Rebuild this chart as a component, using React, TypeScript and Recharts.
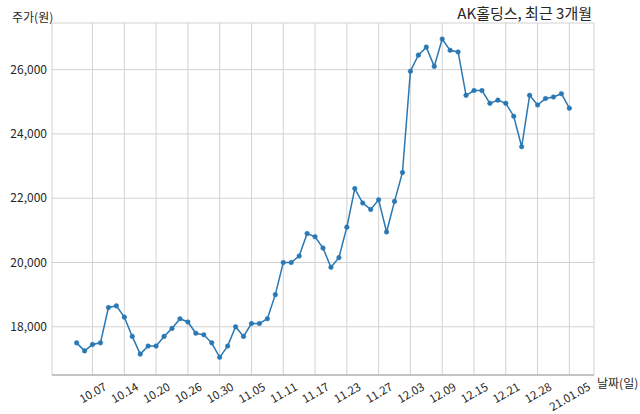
import React from 'react'
import { LineChart, Line, XAxis, YAxis, CartesianGrid } from 'recharts'

// 거래일 (2020.10.05 ~ 2021.01.05)
const dates = [
    '10.05', '10.06', '10.07', '10.08', '10.12', '10.13', '10.14', '10.15', '10.16', '10.19',
    '10.20', '10.21', '10.22', '10.23', '10.26', '10.27', '10.28', '10.29', '10.30', '11.02',
    '11.03', '11.04', '11.05', '11.06', '11.09', '11.10', '11.11', '11.12', '11.13', '11.16',
    '11.17', '11.18', '11.19', '11.20', '11.23', '11.24', '11.25', '11.26', '11.27', '11.30',
    '12.01', '12.02', '12.03', '12.04', '12.07', '12.08', '12.09', '12.10', '12.11', '12.14',
    '12.15', '12.16', '12.17', '12.18', '12.21', '12.22', '12.23', '12.24', '12.28', '12.29',
    '12.30', '21.01.04', '21.01.05'
]

const prices = [
    17500, 17250, 17450, 17500, 18600, 18650, 18300, 17700, 17150, 17400,
    17400, 17700, 17950, 18250, 18150, 17800, 17750, 17500, 17050, 17400,
    18000, 17700, 18100, 18100, 18250, 19000, 20000, 20000, 20200, 20900,
    20800, 20450, 19850, 20150, 21100, 22300, 21850, 21650, 21950, 20950,
    21900, 22800, 25950, 26450, 26700, 26100, 26950, 26600, 26550, 25200,
    25350, 25350, 24950, 25050, 24950, 24550, 23600, 25200, 24900, 25100,
    25150, 25250, 24800
]

const tickLabels = [
    '10.07', '10.14', '10.20', '10.26', '10.30', '11.05', '11.11', '11.17',
    '11.23', '11.27', '12.03', '12.09', '12.15', '12.21', '12.28', '21.01.05'
]

const yTicks = [18000, 20000, 22000, 24000, 26000]

const data = prices.map((price, i) => ({ i, date: dates[i], price }))
const xTicks = tickLabels.map((t) => dates.indexOf(t))

const FONT = '"Noto Sans CJK KR", "Noto Sans", sans-serif'
const TEXT = '#262626'

// 30도 기울인 날짜 라벨, 눈금 아래 중앙 정렬
const XTick = (props: any) => {
    const { x, y, payload } = props
    const label = dates[payload.value] ?? ''
    const digits = label.replace(/\./g, '').length
    const dots = label.length - digits
    const w = digits * 6.3 + dots * 3
    const h = w * 0.5 + 10
    const cy = y + 5 + h / 2
    return (
        <text
            x={x}
            y={cy}
            textAnchor="middle"
            dominantBaseline="central"
            transform={`rotate(-30 ${x} ${cy})`}
            fontSize={11.5}
            fontFamily={FONT}
            fill={TEXT}
        >
            {label}
        </text>
    )
}

const App = () => {
    return (
        <div style={{ position: 'absolute', left: 0, top: 0, width: 640, height: 414, background: '#fff' }}>
            <LineChart
                width={640}
                height={414}
                data={data}
                margin={{ top: 23, right: 46, left: 0, bottom: 0 }}
            >
                <CartesianGrid stroke="#d2d2d2" strokeWidth={1} />
                <XAxis
                    dataKey="i"
                    type="number"
                    domain={[-3.1, 65.1]}
                    ticks={xTicks}
                    interval={0}
                    height={39}
                    tickSize={0}
                    tickMargin={0}
                    tickLine={false}
                    axisLine={{ stroke: '#a0a0a0' }}
                    tick={<XTick />}
                />
                <YAxis
                    type="number"
                    domain={[16500, 27450]}
                    ticks={yTicks}
                    width={52}
                    tickSize={5}
                    tickMargin={0}
                    tickLine={false}
                    axisLine={false}
                    allowDataOverflow
                    tickFormatter={(v: number) => v.toLocaleString('en-US')}
                    tick={{ fill: TEXT, fontSize: 12, fontFamily: FONT }}
                />
                <Line
                    type="linear"
                    dataKey="price"
                    stroke="#2a78b3"
                    strokeWidth={1.5}
                    dot={{ r: 2.3, fill: '#2a78b3', stroke: '#2a78b3', strokeWidth: 0.5 }}
                    isAnimationActive={false}
                />
                <text x={12} y={22} fontSize={12} fontFamily={FONT} fill={TEXT}>주가(원)</text>
                <text x={592} y={19} textAnchor="end" fontSize={15} fontFamily={FONT} fill={TEXT}>
                    AK홀딩스, 최근 3개월
                </text>
                <text x={597} y={388} fontSize={12} fontFamily={FONT} fill={TEXT}>날짜(일)</text>
            </LineChart>
        </div>
    )
}

export default App
